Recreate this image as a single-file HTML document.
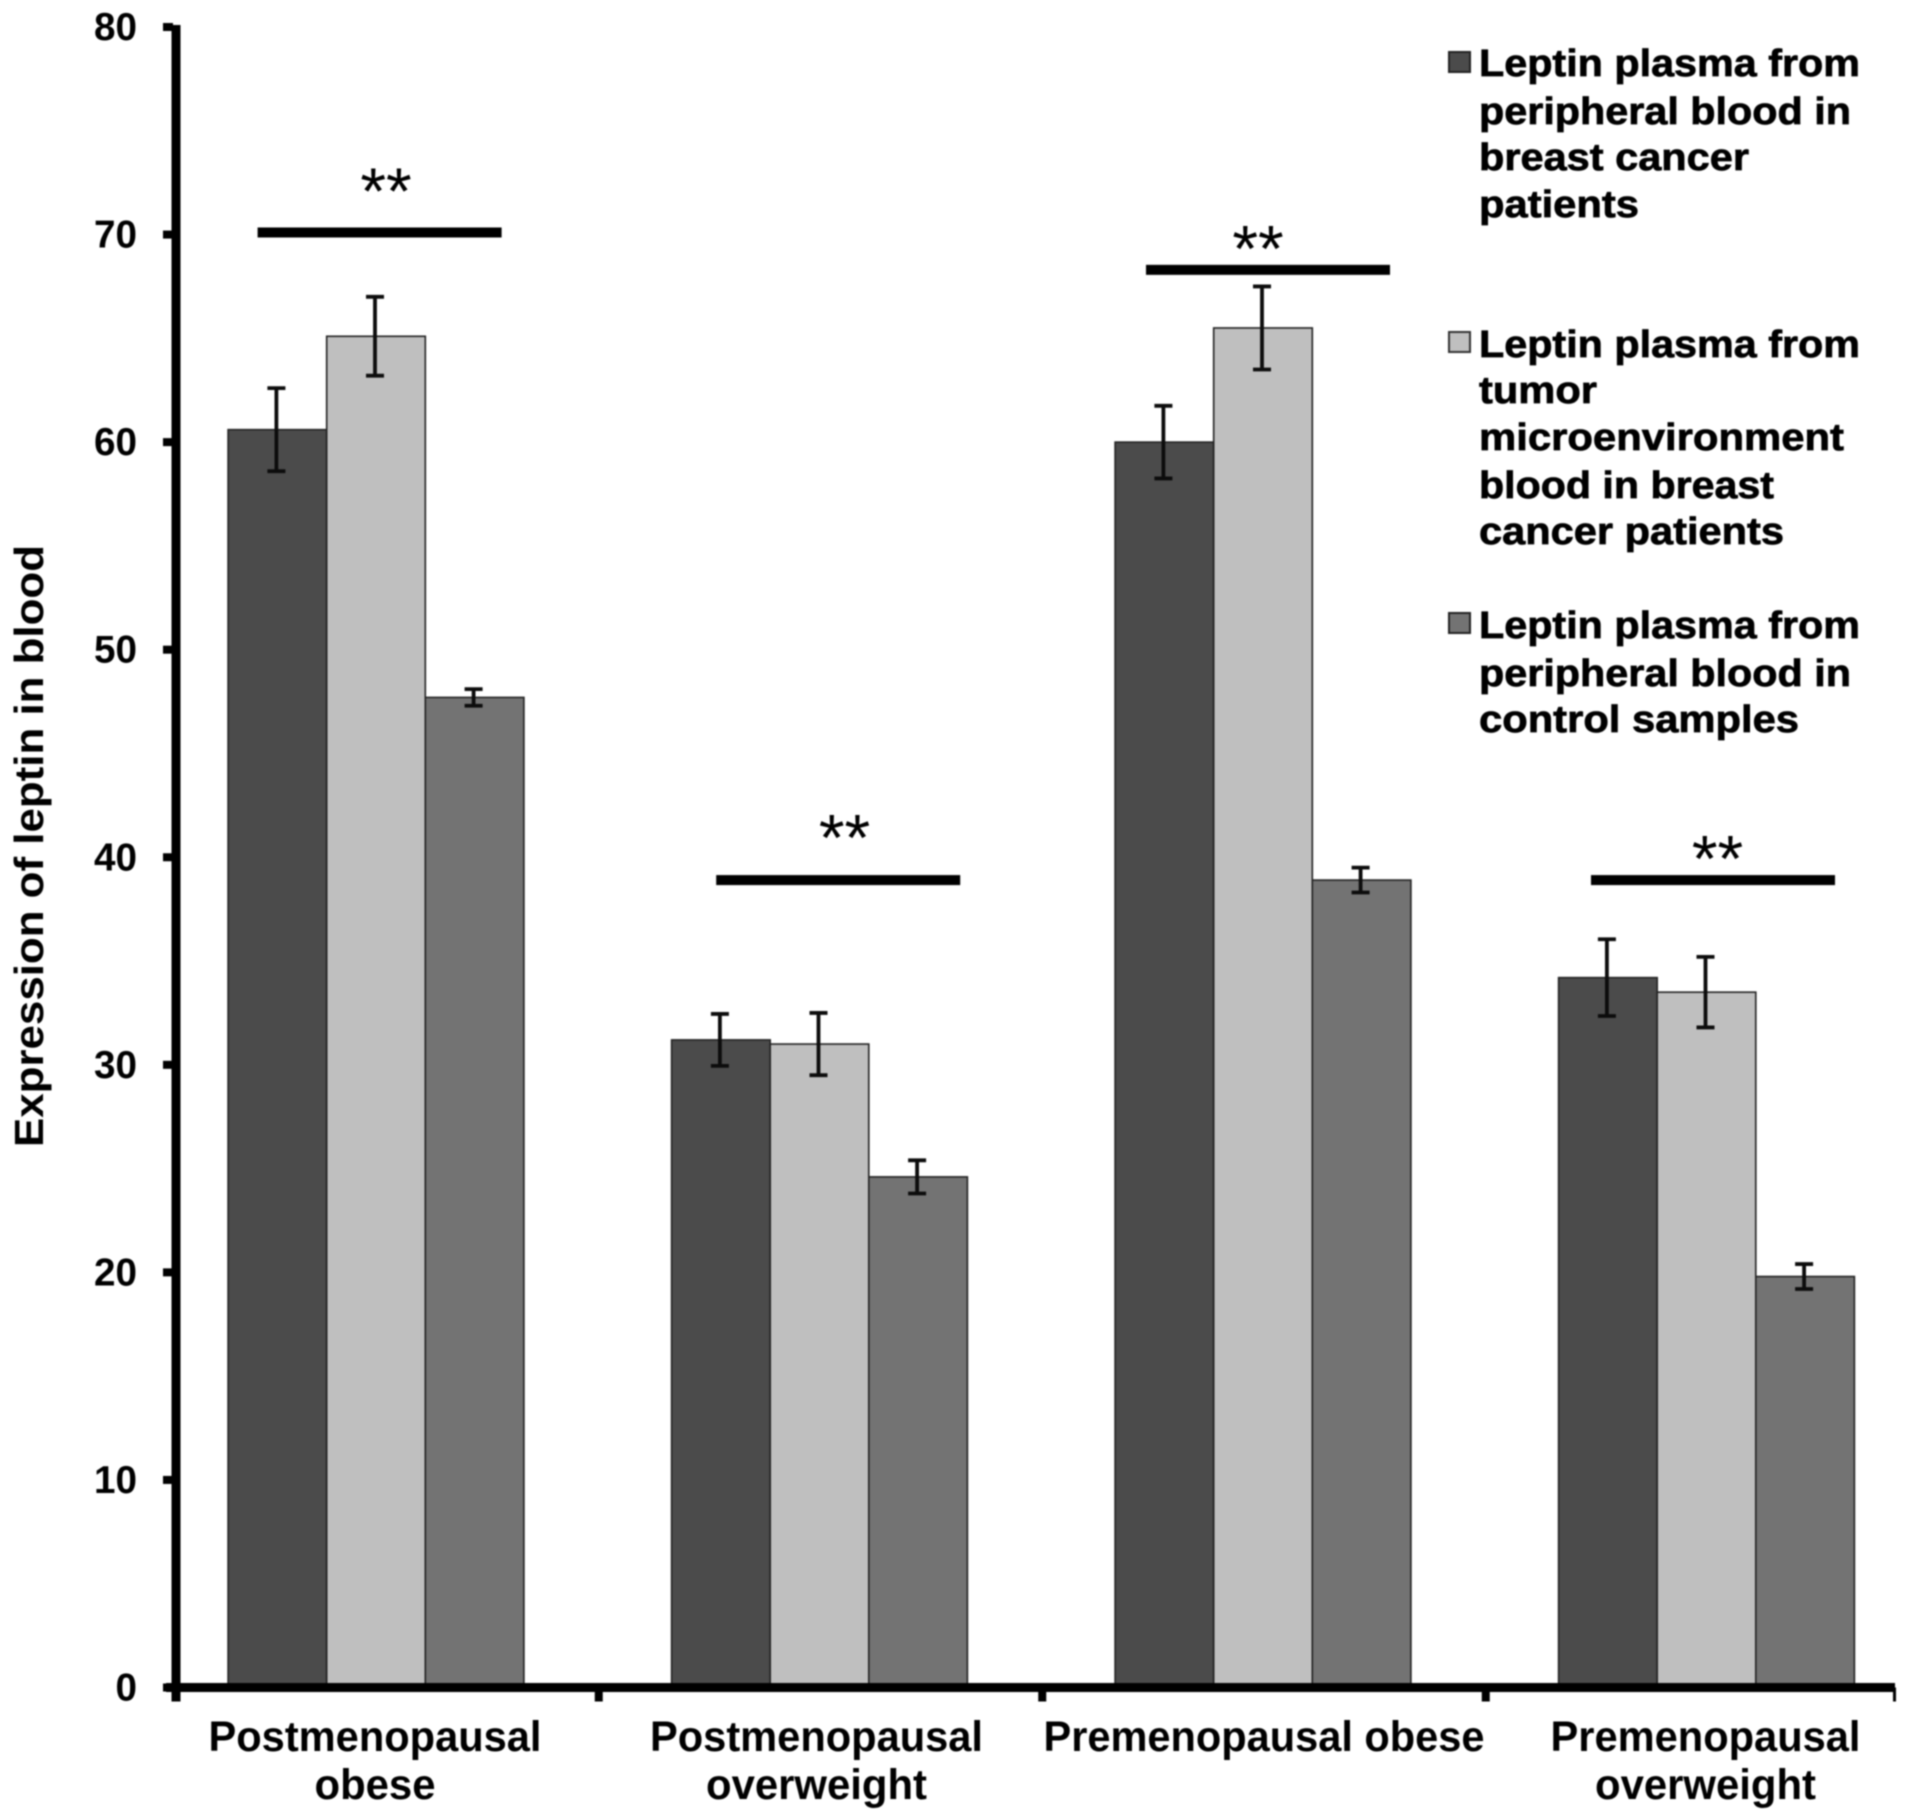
<!DOCTYPE html>
<html lang="en">
<head>
<meta charset="utf-8">
<title>Expression of leptin in blood</title>
<style>
html,body{margin:0;padding:0;background:#fff;width:1913px;height:1820px;overflow:hidden}
svg{display:block;filter:blur(0.7px)}
text{font-family:"Liberation Sans",sans-serif;font-weight:700;fill:#000}
.heavy{stroke:#000;stroke-width:0.7}
</style>
</head>
<body>
<svg id="chart" xmlns="http://www.w3.org/2000/svg" width="1913" height="1820" viewBox="0 0 1913 1820">
<rect x="0" y="0" width="1913" height="1820" fill="#fff"/>
<g id="bars"></g>
<g id="errors"></g>
<g id="axes"></g>
<g id="sig"></g>
<text transform="translate(43,846) rotate(-90)" text-anchor="middle" font-size="41" textLength="602" lengthAdjust="spacingAndGlyphs">Expression of leptin in blood</text>
<g>
<rect x="1449" y="52" width="21" height="20" fill="#4b4b4b" stroke="#222" stroke-width="2"/>
<text class="heavy" font-size="38" x="1479" y="76" textLength="381" lengthAdjust="spacingAndGlyphs">Leptin plasma from</text>
<text class="heavy" font-size="38" x="1479" y="124" textLength="372" lengthAdjust="spacingAndGlyphs">peripheral blood in</text>
<text class="heavy" font-size="38" x="1479" y="170" textLength="270" lengthAdjust="spacingAndGlyphs">breast cancer</text>
<text class="heavy" font-size="38" x="1479" y="217" textLength="160" lengthAdjust="spacingAndGlyphs">patients</text>
<rect x="1449" y="332" width="21" height="20" fill="#bfbfbf" stroke="#333" stroke-width="2"/>
<text class="heavy" font-size="38" x="1479" y="357" textLength="381" lengthAdjust="spacingAndGlyphs">Leptin plasma from</text>
<text class="heavy" font-size="38" x="1479" y="403" textLength="118" lengthAdjust="spacingAndGlyphs">tumor</text>
<text class="heavy" font-size="38" x="1479" y="450" textLength="365" lengthAdjust="spacingAndGlyphs">microenvironment</text>
<text class="heavy" font-size="38" x="1479" y="498" textLength="295" lengthAdjust="spacingAndGlyphs">blood in breast</text>
<text class="heavy" font-size="38" x="1479" y="544" textLength="305" lengthAdjust="spacingAndGlyphs">cancer patients</text>
<rect x="1449" y="613" width="21" height="20" fill="#737373" stroke="#222" stroke-width="2"/>
<text class="heavy" font-size="38" x="1479" y="638" textLength="381" lengthAdjust="spacingAndGlyphs">Leptin plasma from</text>
<text class="heavy" font-size="38" x="1479" y="686" textLength="372" lengthAdjust="spacingAndGlyphs">peripheral blood in</text>
<text class="heavy" font-size="38" x="1479" y="732" textLength="320" lengthAdjust="spacingAndGlyphs">control samples</text>
</g>
<g id="xlabels"></g>
<g id="ylabels"></g>
</svg>
<script>
const categories = ["Postmenopausal obese", "Postmenopausal overweight", "Premenopausal obese", "Premenopausal overweight"];
const peripheralPatients = [60.6, 31.2, 60.0, 34.2];
const tumorPatients = [65.1, 31.0, 65.5, 33.5];
const peripheralControls = [47.7, 24.6, 38.9, 19.8];
const peripheralPatientsErr = [2.0, 1.25, 1.75, 1.85];
const tumorPatientsErr = [1.9, 1.5, 2.0, 1.7];
const peripheralControlsErr = [0.4, 0.8, 0.6, 0.6];
const significanceLevels = [70.1, 38.9, 68.3, 38.9];
const yTickLabels = ["0", "10", "20", "30", "40", "50", "60", "70", "80"];

const NS = "http://www.w3.org/2000/svg";
const Y0 = 1687.5, Y80 = 27, AXIS_X = 176, AXIS_END = 1895;
const BAND_START = 376, BAND_STEP = 443.5, BAR_W = 98.6;
const yScale = v => Y0 - (v / 80) * (Y0 - Y80);
const bandCenter = i => BAND_START + BAND_STEP * i;
const barLeft = (i, s) => bandCenter(i) + (s - 1.5) * BAR_W;

function mk(parent, tag, attrs, txt) {
  const el = document.createElementNS(NS, tag);
  for (const k in attrs) el.setAttribute(k, attrs[k]);
  if (txt !== undefined) el.textContent = txt;
  parent.appendChild(el);
  return el;
}

const seriesValues = [peripheralPatients, tumorPatients, peripheralControls];
const seriesErrors = [peripheralPatientsErr, tumorPatientsErr, peripheralControlsErr];
const seriesFill = ["#4b4b4b", "#bfbfbf", "#737373"];
const seriesKey = ["peripheral-patients", "tumor-patients", "peripheral-controls"];

const barsG = document.getElementById("bars");
const errG = document.getElementById("errors");
categories.forEach((c, i) => {
  seriesValues.forEach((vals, s) => {
    const x = barLeft(i, s), top = yScale(vals[i]);
    const bar = mk(barsG, "rect", {x: x, y: top, width: BAR_W, height: Y0 - top, fill: seriesFill[s], stroke: "#222", "stroke-width": 1.6});
    
    
    const cx = x + BAR_W / 2 - 1;
    const hi = yScale(vals[i] + seriesErrors[s][i]), lo = yScale(vals[i] - seriesErrors[s][i]);
    const eb = mk(errG, "path", {d: `M${cx} ${hi}V${lo}M${cx - 9} ${hi}H${cx + 9}M${cx - 9} ${lo}H${cx + 9}`, fill: "none", stroke: "#0c0c0c", "stroke-width": 3.8});
    
    
  });
});

const axesG = document.getElementById("axes");
const yAxis = mk(axesG, "rect", {x: AXIS_X - 4.5, y: Y80 - 2, width: 9, height: Y0 - Y80 + 16, fill: "#000"});


const xAxis = mk(axesG, "rect", {x: AXIS_X - 10, y: Y0 - 4.5, width: AXIS_END - AXIS_X + 10, height: 9, fill: "#000"});



const ylabG = document.getElementById("ylabels");
yTickLabels.forEach(label => {
  const y = yScale(+label);
  const tick = mk(axesG, "rect", {x: AXIS_X - 13, y: y - 4, width: 10, height: 8, fill: "#000"});
  
  
  const t = mk(ylabG, "text", {x: 137, y: y + 13, "text-anchor": "end", "font-size": 39, textLength: label.length * 21.5, lengthAdjust: "spacingAndGlyphs"}, label);
  
  
});

categories.forEach((c, i) => {
  if (i === categories.length - 1) return;
  const tx = bandCenter(i) + BAND_STEP / 2 + 1;
  const tick = mk(axesG, "rect", {x: tx - 4, y: Y0, width: 8, height: 14, fill: "#000"});
  
  
});
const endTick = mk(axesG, "rect", {x: AXIS_END - 2, y: Y0, width: 3, height: 14, fill: "#000"});



const xlabG = document.getElementById("xlabels");
const labelLines = [["Postmenopausal", "obese"], ["Postmenopausal", "overweight"], ["Premenopausal obese"], ["Premenopausal", "overweight"]];
const lineWidths = [[333, 121], [333, 221], [441], [310, 221]];
const labelNudge = [-1, -3, 1, -1];
const lineBaselines = [1751, 1799];
labelLines.forEach((lines, i) => {
  lines.forEach((ln, j) => {
    const t = mk(xlabG, "text", {x: bandCenter(i) + labelNudge[i], y: lineBaselines[j], "text-anchor": "middle", "font-size": 43, textLength: lineWidths[i][j], lengthAdjust: "spacingAndGlyphs"}, ln);
    
    
  });
});

const sigG = document.getElementById("sig");
const sigNudge = [3.6, 18.7, 5, 6.5];
const starNudge = [10, 25, -5, 11];
const starRise = [56.5, 57.5, 36.5, 36.5];
const sigHalf = 122;
significanceLevels.forEach((lvl, i) => {
  const cx = bandCenter(i) + sigNudge[i], y = yScale(lvl);
  const ln = mk(sigG, "rect", {x: cx - sigHalf, y: y - 5, width: sigHalf * 2, height: 10, fill: "#000"});
  
  
  const st = mk(sigG, "text", {x: bandCenter(i) + starNudge[i], y: y - starRise[i] + 38, "text-anchor": "middle", "font-size": 66, style: "font-weight:400"}, "**");
  
  
});
</script>
</body>
</html>
